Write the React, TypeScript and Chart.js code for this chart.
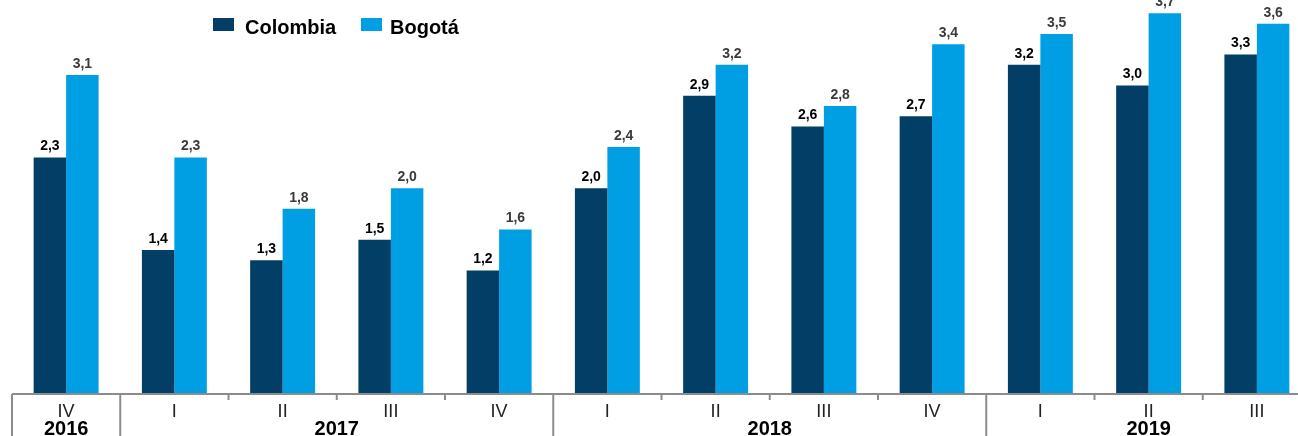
import React, { useEffect, useRef } from "react";
import { Chart, registerables } from "chart.js";

Chart.register(...registerables);

const quarters = ["IV", "I", "II", "III", "IV", "I", "II", "III", "IV", "I", "II", "III"];
const years = ["2016", "2017", "2018", "2019"];
const yearSpans = [1, 4, 4, 3];
const colombia = [2.3, 1.4, 1.3, 1.5, 1.2, 2.0, 2.9, 2.6, 2.7, 3.2, 3.0, 3.3];
const bogota = [3.1, 2.3, 1.8, 2.0, 1.6, 2.4, 3.2, 2.8, 3.4, 3.5, 3.7, 3.6];
const seriesNames = ["Colombia", "Bogotá"];
const colors = ["#023E66", "#009FE3"];
const labelColors = ["#000000", "#3a3a3a"];

const FONT = "'Liberation Sans', Arial, sans-serif";

const customPlugin = {
  id: "custom",
  afterDraw(chart: any) {
    const ctx = chart.ctx;
    const xs = chart.scales.x;
    const area = chart.chartArea;
    ctx.save();
    // value labels
    chart.data.datasets.forEach((ds: any, di: number) => {
      const meta = chart.getDatasetMeta(di);
      meta.data.forEach((bar: any, i: number) => {
        ctx.font = `bold 14px ${FONT}`;
        ctx.fillStyle = labelColors[di];
        ctx.textAlign = "center";
        ctx.textBaseline = "bottom";
        ctx.fillText(ds.data[i].toFixed(1).replace(".", ","), bar.x, bar.y - 4);
      });
    });
    // axis line
    const y0 = area.bottom;
    ctx.strokeStyle = "#8c8c8c";
    ctx.lineWidth = 2;
    ctx.beginPath();
    ctx.moveTo(area.left, y0);
    ctx.lineTo(area.right, y0);
    ctx.stroke();
    const step = (area.right - area.left) / quarters.length;
    const bound = (k: number) => area.left + k * step;
    let acc = 0;
    const yearBounds = [0];
    yearSpans.forEach((s) => {
      acc += s;
      yearBounds.push(acc);
    });
    for (let k = 0; k <= quarters.length; k++) {
      const isYear = yearBounds.includes(k);
      ctx.beginPath();
      ctx.moveTo(bound(k), y0);
      ctx.lineTo(bound(k), isYear ? chart.height : y0 + 6);
      ctx.stroke();
    }
    // quarter labels
    ctx.fillStyle = "#222";
    ctx.font = `18px ${FONT}`;
    ctx.textAlign = "center";
    ctx.textBaseline = "alphabetic";
    quarters.forEach((q, i) => {
      ctx.fillText(q, xs.getPixelForValue(i), 417);
    });
    // year labels
    ctx.fillStyle = "#000";
    ctx.font = `bold 20px ${FONT}`;
    years.forEach((yr, j) => {
      const cx = (bound(yearBounds[j]) + bound(yearBounds[j + 1])) / 2;
      ctx.fillText(yr, cx, 435);
    });
    // legend
    const leg = [
      { x: 213, tx: 245 },
      { x: 361, tx: 390 },
    ];
    ctx.font = `bold 20px ${FONT}`;
    ctx.textAlign = "left";
    leg.forEach((l, i) => {
      ctx.fillStyle = colors[i];
      ctx.fillRect(l.x, 18, 21, 13);
      ctx.fillStyle = "#000";
      ctx.fillText(seriesNames[i], l.tx, 34);
    });
    ctx.restore();
  },
};

export default function App() {
  const ref = useRef<HTMLCanvasElement>(null);
  useEffect(() => {
    if (!ref.current) return;
    const chart = new Chart(ref.current, {
      type: "bar",
      data: {
        labels: quarters.map((q, i) => `${q}-${i}`),
        datasets: [
          { label: seriesNames[0], data: colombia, backgroundColor: colors[0], categoryPercentage: 0.6, barPercentage: 1 },
          { label: seriesNames[1], data: bogota, backgroundColor: colors[1], categoryPercentage: 0.6, barPercentage: 1 },
        ],
      },
      options: {
        responsive: false,
        animation: false,
        layout: { padding: { left: 12, right: 0, top: 0, bottom: 42 } },
        plugins: { legend: { display: false }, tooltip: { enabled: false } },
        scales: {
          x: { display: false },
          y: { display: false, min: 0, max: 3.83 },
        },
      },
      plugins: [customPlugin],
    });
    return () => chart.destroy();
  }, []);
  return (
    <div style={{ position: "fixed", left: 0, top: 0, width: 1298, height: 436, overflow: "hidden", background: "#fff" }}>
      <canvas ref={ref} width={1311} height={436} style={{ width: 1311, height: 436, display: "block" }} />
    </div>
  );
}
